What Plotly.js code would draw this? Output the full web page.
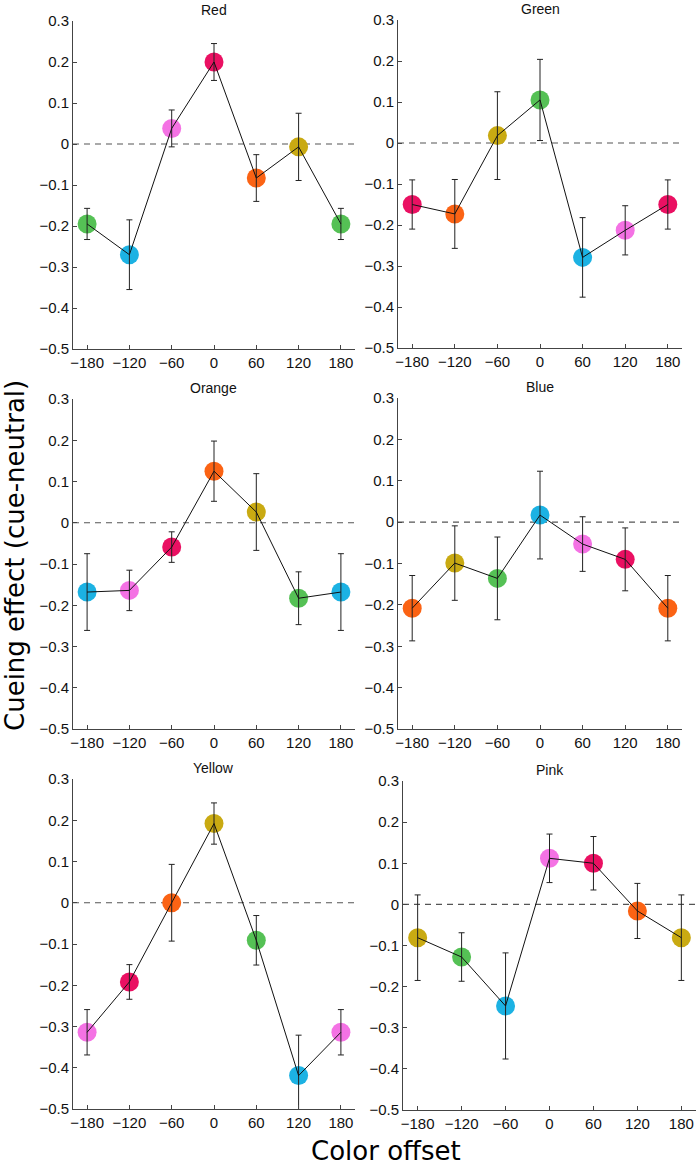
<!DOCTYPE html>
<html>
<head>
<meta charset="utf-8">
<script src="https://cdn.plot.ly/plotly-3.0.1.min.js"></script>
<style>
  html, body { margin: 0; padding: 0; background: #fff; }
  #chart { width: 697px; height: 1166px; }
</style>
</head>
<body>
<div id="chart"></div>
<script>
// Color offsets (degrees) shared by all panels
const offsets = [-180, -120, -60, 0, 60, 120, 180];
const panelNames = ['Red', 'Green', 'Orange', 'Blue', 'Yellow', 'Pink'];

// Cueing effect means and error bars
const redMean = [-0.195, -0.270, 0.038, 0.200, -0.083, -0.007, -0.195];
const redErr = [0.038, 0.085, 0.045, 0.045, 0.057, 0.082, 0.038];
const redDots = ['green', 'cyan', 'pink', 'red', 'orange', 'yellow', 'green'];

const greenMean = [-0.150, -0.173, 0.018, 0.105, -0.279, -0.213, -0.150];
const greenErr = [0.060, 0.084, 0.107, 0.099, 0.097, 0.060, 0.060];
const greenDots = ['red', 'orange', 'yellow', 'green', 'cyan', 'pink', 'red'];

const orangeMean = [-0.168, -0.164, -0.059, 0.125, 0.026, -0.183, -0.168];
const orangeErr = [0.093, 0.049, 0.037, 0.073, 0.093, 0.064, 0.093];
const orangeDots = ['cyan', 'pink', 'red', 'orange', 'yellow', 'green', 'cyan'];

const blueMean = [-0.208, -0.099, -0.136, 0.017, -0.053, -0.090, -0.208];
const blueErr = [0.079, 0.090, 0.100, 0.106, 0.066, 0.076, 0.079];
const blueDots = ['orange', 'yellow', 'green', 'cyan', 'pink', 'red', 'orange'];

const yellowMean = [-0.314, -0.192, 0.000, 0.192, -0.091, -0.419, -0.314];
const yellowErr = [0.055, 0.042, 0.093, 0.050, 0.060, 0.098, 0.055];
const yellowDots = ['pink', 'red', 'orange', 'yellow', 'green', 'cyan', 'pink'];

const pinkMean = [-0.081, -0.128, -0.247, 0.112, 0.100, -0.016, -0.081];
const pinkErr = [0.104, 0.059, 0.129, 0.059, 0.065, 0.067, 0.104];
const pinkDots = ['yellow', 'green', 'cyan', 'pink', 'red', 'orange', 'yellow'];

const dotColor = {
    green: '#55c155',
    cyan: '#1cb2e3',
    pink: '#f472e4',
    red: '#ea1062',
    orange: '#fb6314',
    yellow: '#c9aa12'
};

const panels = [
    { mean: redMean, err: redErr, dots: redDots },
    { mean: greenMean, err: greenErr, dots: greenDots },
    { mean: orangeMean, err: orangeErr, dots: orangeDots },
    { mean: blueMean, err: blueErr, dots: blueDots },
    { mean: yellowMean, err: yellowErr, dots: yellowDots },
    { mean: pinkMean, err: pinkErr, dots: pinkDots }
];

// Pixel boxes of each subplot: [left, right, top, bottom]
const W = 697, H = 1166;
const boxes = [
    [73, 355, 21, 349],
    [398, 682, 20, 348],
    [73, 355, 399, 729],
    [398, 682, 398, 729],
    [73, 355, 779, 1109],
    [403, 696, 781, 1110]
];

const axisColor = '#444';
const data = [];
const layout = {
    width: W,
    height: H,
    margin: { l: 0, r: 0, t: 0, b: 0 },
    showlegend: false,
    paper_bgcolor: '#fff',
    plot_bgcolor: '#fff',
    font: { family: 'Liberation Sans, Arial, sans-serif', size: 15, color: '#111' },
    annotations: [],
    shapes: []
};

panels.forEach((p, i) => {
    const s = i === 0 ? '' : String(i + 1);
    const b = boxes[i];
    const xd = [b[0] / W, b[1] / W];
    const yd = [1 - b[3] / H, 1 - b[2] / H];

    // Colored dots
    data.push({
        x: offsets,
        y: p.mean,
        xaxis: 'x' + s,
        yaxis: 'y' + s,
        type: 'scatter',
        mode: 'markers',
        marker: { size: 19, color: p.dots.map(d => dotColor[d]), line: { width: 0 } },
        hoverinfo: 'skip'
    });

    // Connecting line with error bars on top
    data.push({
        x: offsets,
        y: p.mean,
        xaxis: 'x' + s,
        yaxis: 'y' + s,
        type: 'scatter',
        mode: 'lines',
        line: { color: '#111', width: 1 },
        error_y: { type: 'data', array: p.err, visible: true, color: '#222', thickness: 1, width: 3 }
    });

    layout['xaxis' + s] = {
        domain: xd,
        anchor: 'y' + s,
        range: [-200, 200],
        tickvals: offsets,
        showline: true,
        linecolor: axisColor,
        linewidth: 1,
        ticks: 'inside',
        ticklen: 4,
        tickcolor: axisColor,
        showgrid: false,
        zeroline: false
    };
    layout['yaxis' + s] = {
        domain: yd,
        anchor: 'x' + s,
        range: [-0.5, 0.3],
        tick0: 0,
        dtick: 0.1,
        showline: true,
        linecolor: axisColor,
        linewidth: 1,
        ticks: 'inside',
        ticklen: 4,
        tickcolor: axisColor,
        showgrid: false,
        zeroline: false
    };

    // Dashed reference at zero
    layout.shapes.push({
        type: 'line',
        layer: 'below',
        xref: 'x' + s + ' domain',
        yref: 'y' + s,
        x0: 0, x1: 1, y0: 0, y1: 0,
        line: { color: '#555', width: 1.2, dash: '6px,5px' }
    });

    // Panel title
    layout.annotations.push({
        text: panelNames[i],
        xref: 'paper', yref: 'paper',
        x: (xd[0] + xd[1]) / 2,
        y: yd[1],
        xanchor: 'center',
        yanchor: 'bottom',
        yshift: 1,
        showarrow: false,
        font: { size: 14, color: '#111' }
    });
});

// Shared axis labels
layout.annotations.push({
    text: 'Cueing effect (cue-neutral)',
    xref: 'paper', yref: 'paper',
    x: 15 / W, y: 1 - 556 / H,
    xanchor: 'center', yanchor: 'middle',
    textangle: -90,
    showarrow: false,
    font: { family: 'DejaVu Sans, sans-serif', size: 26, color: '#000' }
});
layout.annotations.push({
    text: 'Color offset',
    xref: 'paper', yref: 'paper',
    x: 386 / W, y: 1 - 1151 / H,
    xanchor: 'center', yanchor: 'middle',
    showarrow: false,
    font: { family: 'DejaVu Sans, sans-serif', size: 26, color: '#000' }
});

Plotly.newPlot('chart', data, layout, { staticPlot: true });
</script>
</body>
</html>
